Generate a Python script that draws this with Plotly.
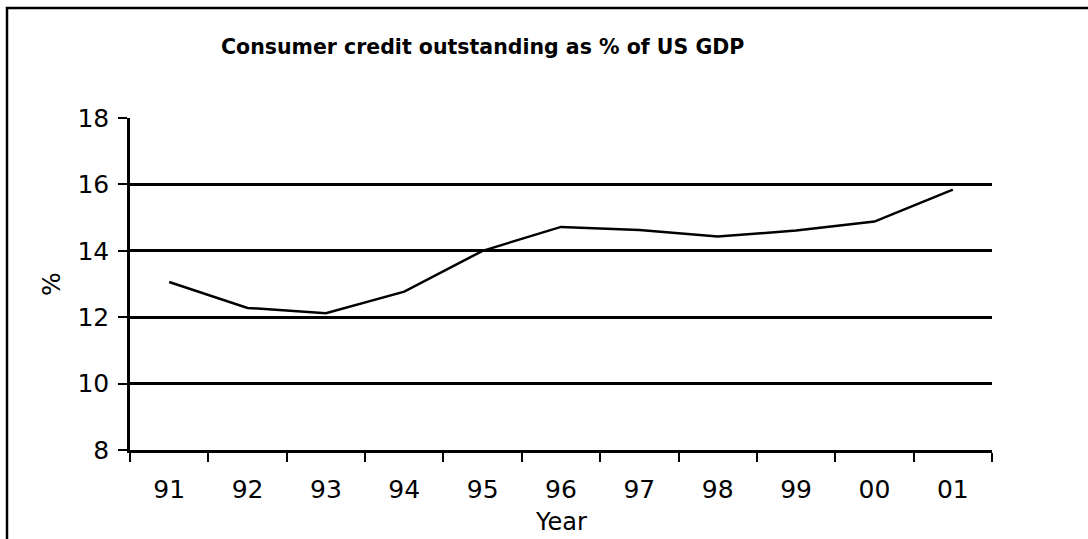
import plotly.graph_objects as go

years = ["91", "92", "93", "94", "95", "96", "97", "98", "99", "00", "01"]
credit_pct = [13.06, 12.28, 12.12, 12.77, 14.0, 14.72, 14.63, 14.43, 14.61, 14.88, 15.84]
y_ticks = [8, 10, 12, 14, 16, 18]

FONT = "DejaVu Sans"
W, H = 1088, 539
L, R, T, B = 130, 96, 118, 89
pw, ph = W - L - R, H - T - B

def px_to_paper_x(px):
    return (px - L) / pw

def px_to_paper_y(py):
    return (H - B - py) / ph

fig = go.Figure()
fig.add_trace(go.Scatter(
    x=years, y=credit_pct, mode="lines",
    line=dict(color="black", width=2.5),
    showlegend=False, hoverinfo="skip",
))

fig.update_layout(
    width=W, height=H,
    margin=dict(l=L, r=R, t=T, b=B),
    paper_bgcolor="white", plot_bgcolor="white",
    font=dict(family=FONT, color="black", size=25),
    xaxis=dict(
        type="category", tickson="boundaries",
        ticks="outside", ticklen=9, tickwidth=2, tickcolor="black",
        showline=True, linecolor="black", linewidth=2.5,
        showgrid=False, zeroline=False,
        tickfont=dict(family=FONT, size=25, color="black"),
        range=[-0.5, 10.5],
        ticklabelstandoff=15,
    ),
    yaxis=dict(
        range=[8, 18], tickvals=y_ticks, ticktext=[str(v) for v in y_ticks],
        ticks="outside", ticklen=9, tickwidth=2, tickcolor="black",
        showline=True, linecolor="black", linewidth=2.5,
        showgrid=True, gridcolor="black", gridwidth=2.5,
        zeroline=False,
        tickfont=dict(family=FONT, size=25, color="black"),
        ticklabelstandoff=4,
    ),
    shapes=[dict(
        type="rect", xref="paper", yref="paper",
        x0=px_to_paper_x(7), x1=px_to_paper_x(1200),
        y0=px_to_paper_y(700), y1=px_to_paper_y(8),
        line=dict(color="black", width=2.5), fillcolor="rgba(0,0,0,0)", layer="below",
    )],
    annotations=[
        dict(text="<b>Consumer credit outstanding as % of US GDP</b>",
             xref="paper", yref="paper",
             x=px_to_paper_x(482), y=px_to_paper_y(47),
             xanchor="center", yanchor="middle", showarrow=False,
             font=dict(family=FONT, size=20.5, color="black")),
        dict(text="%", xref="paper", yref="paper",
             x=px_to_paper_x(51), y=px_to_paper_y(284),
             xanchor="center", yanchor="middle", showarrow=False, textangle=-90,
             font=dict(family=FONT, size=25, color="black")),
        dict(text="Year", xref="paper", yref="paper",
             x=px_to_paper_x(561), y=px_to_paper_y(522),
             xanchor="center", yanchor="middle", showarrow=False,
             font=dict(family=FONT, size=24, color="black")),
    ],
)

fig.write_html("out.html", config={"displayModeBar": False},
               post_script="document.body.style.margin='0';document.body.style.padding='0';")
